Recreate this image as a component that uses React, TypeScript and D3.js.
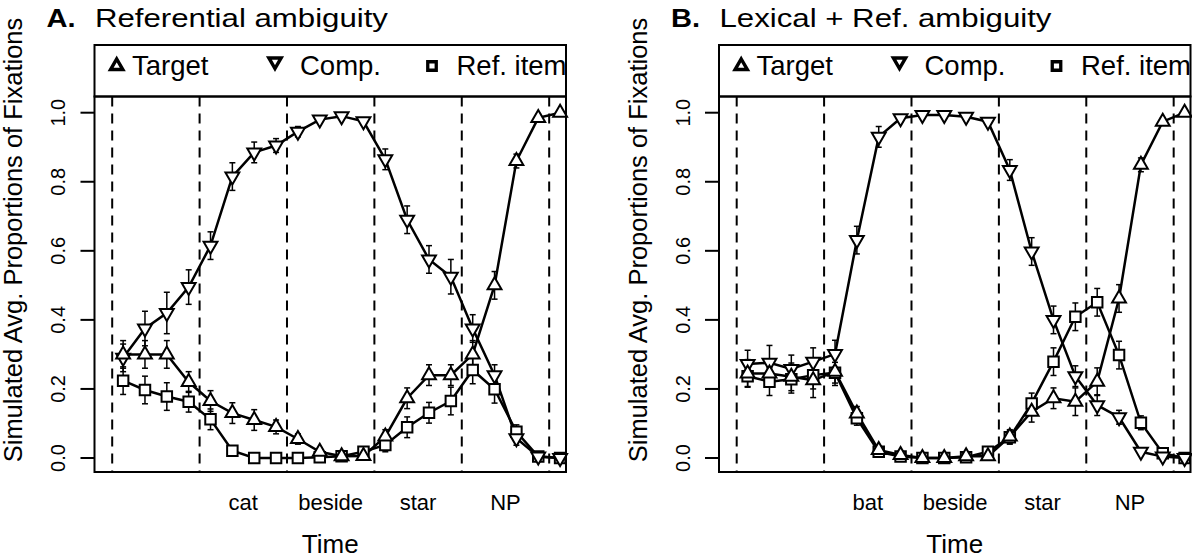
import React from "react";
import * as d3 from "d3";

// ---- data ----
const timeIndex = d3.range(21);
const wordBoundaries = [-0.5, 3.5, 7.5, 11.5, 15.5, 19.5];
const wordsA = ["cat", "beside", "star", "NP"];
const wordsB = ["bat", "beside", "star", "NP"];
const yTicks = [0, 0.2, 0.4, 0.6, 0.8, 1.0];
const legendLabels = ["Target", "Comp.", "Ref. item"];

const targetA = [0.30, 0.30, 0.30, 0.22, 0.165, 0.13, 0.11, 0.09, 0.055, 0.018, 0.005, 0.006, 0.062, 0.173, 0.24, 0.24, 0.30, 0.50, 0.86, 0.985, 1.0];
const compA = [0.29, 0.375, 0.42, 0.495, 0.615, 0.815, 0.885, 0.905, 0.945, 0.98, 0.99, 0.975, 0.865, 0.69, 0.575, 0.525, 0.375, 0.24, 0.057, 0.004, 0.0];
const refA = [0.224, 0.197, 0.178, 0.163, 0.112, 0.021, 0.0, 0.0, 0.0, 0.002, 0.005, 0.018, 0.038, 0.089, 0.131, 0.165, 0.255, 0.199, 0.076, 0.004, 0.0];
const targetAErr = [0.04, 0.04, 0.04, 0.03, 0.03, 0.03, 0.03, 0.02, 0.015, 0.01, 0.005, 0.01, 0.02, 0.03, 0.03, 0.03, 0.04, 0.04, 0.02, 0.01, 0.005];
const compAErr = [0.04, 0.05, 0.06, 0.05, 0.04, 0.04, 0.03, 0.02, 0.015, 0.01, 0.005, 0.01, 0.03, 0.04, 0.04, 0.05, 0.04, 0.03, 0.02, 0.005, 0.005];
const refAErr = [0.04, 0.04, 0.04, 0.03, 0.03, 0.01, 0.005, 0.005, 0.005, 0.005, 0.005, 0.01, 0.02, 0.03, 0.03, 0.04, 0.04, 0.04, 0.02, 0.005, 0.005];

const targetB = [0.245, 0.245, 0.235, 0.225, 0.25, 0.129, 0.023, 0.009, 0.0, 0.0, 0.005, 0.005, 0.062, 0.134, 0.173, 0.163, 0.221, 0.462, 0.849, 0.974, 1.0];
const compB = [0.272, 0.276, 0.258, 0.279, 0.301, 0.631, 0.93, 0.984, 0.993, 0.993, 0.988, 0.974, 0.834, 0.598, 0.40, 0.237, 0.153, 0.118, 0.018, 0.004, 0.0];
const refB = [0.237, 0.221, 0.228, 0.24, 0.247, 0.115, 0.018, 0.004, 0.0, 0.0, 0.002, 0.018, 0.06, 0.158, 0.279, 0.409, 0.451, 0.298, 0.102, 0.014, 0.0];
const targetBErr = [0.04, 0.04, 0.04, 0.05, 0.04, 0.02, 0.01, 0.005, 0.005, 0.005, 0.005, 0.01, 0.02, 0.03, 0.03, 0.04, 0.04, 0.04, 0.02, 0.01, 0.005];
const compBErr = [0.04, 0.05, 0.04, 0.04, 0.04, 0.04, 0.03, 0.01, 0.005, 0.005, 0.005, 0.01, 0.03, 0.04, 0.04, 0.03, 0.03, 0.02, 0.01, 0.005, 0.005];
const refBErr = [0.03, 0.04, 0.04, 0.04, 0.03, 0.02, 0.01, 0.005, 0.005, 0.005, 0.005, 0.01, 0.02, 0.03, 0.04, 0.04, 0.04, 0.04, 0.02, 0.01, 0.005];

const FONT = "'Liberation Sans', Arial, Helvetica, sans-serif";

type Shape = "up" | "down" | "square";

function markerPath(shape: Shape, r: number) {
  const xc = r * 0.866;
  if (shape === "up") return `M0,${-r}L${xc},${r / 2}L${-xc},${r / 2}Z`;
  if (shape === "down") return `M0,${r}L${xc},${-r / 2}L${-xc},${-r / 2}Z`;
  const s = r;
  return `M${-s / 2},${-s / 2}H${s / 2}V${s / 2}H${-s / 2}Z`;
}

function Panel({ dx, letter, title, words, series }: any) {
  const left = 94.5, right = 566, top = 96.5, bottom = 472;
  const x = d3.scaleLinear().domain([-1.31, 20.27]).range([left, right]);
  const y = d3.scaleLinear().domain([0, 1]).range([458, 112.7]);
  const line = d3.line<number>().x((_, i) => x(timeIndex[i])).y((d) => y(d));
  return (
    <g transform={`translate(${dx},0)`} fontFamily={FONT}>
      <text transform="translate(46.5,27) scale(1.12,1)" fontSize={26} fontWeight="bold">{letter}</text>
      <text transform="translate(95,27) scale(1.2,1)" fontSize={26}>{title}</text>
      {/* legend */}
      <rect x={left} y={45} width={right - left} height={top - 45} fill="white" stroke="black" strokeWidth={2} />
      <path d={markerPath("up", 7)} transform="translate(116.7,66)" fill="none" stroke="black" strokeWidth={3.5} />
      <text x={132} y={75} fontSize={27.5}>{legendLabels[0]}</text>
      <path d={markerPath("down", 7)} transform="translate(275,61.5)" fill="none" stroke="black" strokeWidth={3.5} />
      <text x={300} y={75} fontSize={27.5}>{legendLabels[1]}</text>
      <path d={markerPath("square", 8.5)} transform="translate(432,66)" fill="none" stroke="black" strokeWidth={3.3} />
      <text x={456.5} y={75} fontSize={27.5}>{legendLabels[2]}</text>
      {/* y axis */}
      {yTicks.map((t) => (
        <g key={t}>
          <line x1={80.5} x2={left} y1={y(t)} y2={y(t)} stroke="black" strokeWidth={2} />
          <text transform={`translate(65,${y(t)}) rotate(-90)`} textAnchor="middle" fontSize={20}>{t.toFixed(1)}</text>
        </g>
      ))}
      <text transform="translate(22,240) rotate(-90)" textAnchor="middle" fontSize={25.5}>Simulated Avg. Proportions of Fixations</text>
      {/* dashed lines */}
      {wordBoundaries.map((b) => (
        <line key={b} x1={x(b)} x2={x(b)} y1={top} y2={bottom} stroke="black" strokeWidth={2} strokeDasharray="10,7" />
      ))}
      {words.map((w: string, k: number) => (
        <text key={w} x={(x(wordBoundaries[k + 1]) + x(wordBoundaries[k + 2])) / 2} y={510} fontSize={22} textAnchor="middle">{w}</text>
      ))}
      <text x={(left + right) / 2} y={553} fontSize={26} textAnchor="middle">Time</text>
      {/* series lines */}
      {series.map((s: any) => (
        <path key={s.name + "l"} d={line(s.values) || ""} fill="none" stroke="black" strokeWidth={2.5} />
      ))}
      {series.map((s: any) => (
        <g key={s.name + "e"} stroke="black" strokeWidth={1.5}>
          {s.values.map((v: number, i: number) => {
            const cx = x(timeIndex[i]);
            const y0 = y(v - s.err[i]), y1 = y(v + s.err[i]);
            return (
              <g key={i}>
                <line x1={cx} x2={cx} y1={y0} y2={y1} />
                <line x1={cx - 3} x2={cx + 3} y1={y0} y2={y0} />
                <line x1={cx - 3} x2={cx + 3} y1={y1} y2={y1} />
              </g>
            );
          })}
        </g>
      ))}
      {series.map((s: any) => (
        <g key={s.name + "m"}>
          {s.values.map((v: number, i: number) => (
            <path key={i} d={markerPath(s.shape, s.shape === "square" ? 10.5 : 8)} transform={`translate(${x(timeIndex[i])},${y(v)})`} fill="white" stroke="black" strokeWidth={2} />
          ))}
        </g>
      ))}
      <rect x={left} y={top} width={right - left} height={bottom - top} fill="none" stroke="black" strokeWidth={2} />
    </g>
  );
}

export default function App() {
  const seriesA = [
    { name: "ref", shape: "square", values: refA, err: refAErr },
    { name: "comp", shape: "down", values: compA, err: compAErr },
    { name: "target", shape: "up", values: targetA, err: targetAErr },
  ];
  const seriesB = [
    { name: "ref", shape: "square", values: refB, err: refBErr },
    { name: "comp", shape: "down", values: compB, err: compBErr },
    { name: "target", shape: "up", values: targetB, err: targetBErr },
  ];
  return (
    <div style={{ position: "fixed", left: 0, top: 0 }}>
      <svg width={1192} height={560} style={{ display: "block", background: "white" }}>
        <Panel dx={0} letter="A." title="Referential ambiguity" words={wordsA} series={seriesA} />
        <Panel dx={624.5} letter="B." title="Lexical + Ref. ambiguity" words={wordsB} series={seriesB} />
      </svg>
    </div>
  );
}
